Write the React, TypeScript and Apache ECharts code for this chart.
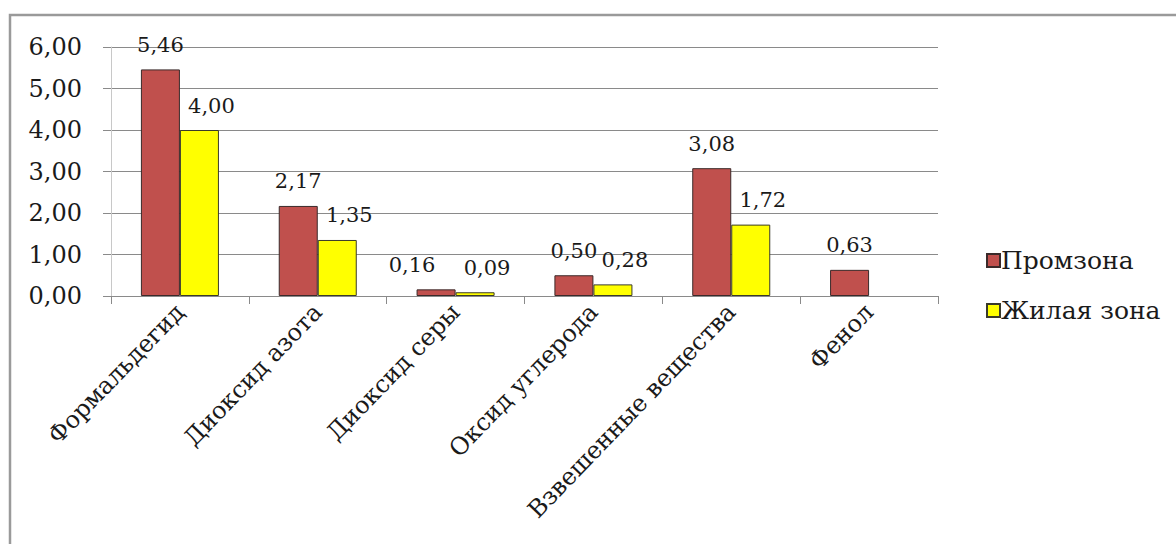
import React, { useEffect, useRef } from "react";
import * as echarts from "echarts";

const categories = [
  "Формальдегид",
  "Диоксид азота",
  "Диоксид серы",
  "Оксид углерода",
  "Взвешенные вещества",
  "Фенол",
];
const seriesNames = ["Промзона", "Жилая зона"];
const promzona = [5.46, 2.17, 0.16, 0.5, 3.08, 0.63];
const zhilaya: (number | null)[] = [4.0, 1.35, 0.09, 0.28, 1.72, null];
const yTicks = { min: 0, max: 6, interval: 1 };

const fmt = (v: number) => v.toFixed(2).replace(".", ",");
const FONT = "DejaVu Serif";

export default function App() {
  const ref = useRef<HTMLDivElement>(null);
  useEffect(() => {
    if (!ref.current) return;
    const chart = echarts.init(ref.current, undefined, { renderer: "svg" });
    chart.setOption({
      animation: false,
      backgroundColor: "#ffffff",
      textStyle: { fontFamily: FONT },
      graphic: [
        {
          type: "rect",
          shape: { x: 10, y: 15, width: 1200, height: 600 },
          style: { fill: "none", stroke: "#9a9a9a", lineWidth: 2.5 },
          silent: true,
        },
      ],
      grid: { left: 111, right: 238, top: 47, bottom: 248, containLabel: false },
      legend: {
        orient: "vertical",
        left: 981,
        top: 243,
        itemWidth: 13,
        itemHeight: 13,
        itemGap: 25,
        icon: "rect",
        textStyle: { fontFamily: FONT, fontSize: 25, color: "#1a1a1a", padding: [0, 0, 0, -4] },
        data: seriesNames,
      },
      xAxis: {
        type: "category",
        data: categories,
        axisLine: { show: true, lineStyle: { color: "#8a8a8a", width: 1 } },
        axisTick: { show: true, length: 8, lineStyle: { color: "#8a8a8a" } },
        axisLabel: {
          rotate: 46,
          interval: 0,
          margin: 12,
          fontFamily: FONT,
          fontSize: 24,
          color: "#1a1a1a",
        },
      },
      yAxis: {
        type: "value",
        min: yTicks.min,
        max: yTicks.max,
        interval: yTicks.interval,
        axisLine: { show: true, lineStyle: { color: "#c8c8c8", width: 1 } },
        axisTick: { show: true, inside: false, length: 8, lineStyle: { color: "#8a8a8a" } },
        splitLine: { show: true, lineStyle: { color: "#8a8a8a", width: 1 } },
        axisLabel: {
          margin: 29,
          fontFamily: FONT,
          fontSize: 24,
          color: "#1a1a1a",
          formatter: (v: number) => fmt(v),
        },
      },
      series: [
        {
          name: seriesNames[0],
          type: "bar",
          data: promzona.map((v, i) =>
            i === 2 ? { value: v, label: { offset: [-24, 0] } } : v
          ),
          barWidth: "28.3%",
          barGap: "0%",
          itemStyle: { color: "#C0504D", borderColor: "#3a2a2a", borderWidth: 1 },
          label: {
            show: true,
            position: "top",
            distance: 14,
            fontFamily: FONT,
            fontSize: 21,
            color: "#1a1a1a",
            formatter: (p: any) => fmt(p.value),
          },
        },
        {
          name: seriesNames[1],
          type: "bar",
          data: zhilaya,
          barWidth: "28.3%",
          barGap: "0%",
          itemStyle: { color: "#FFFF00", borderColor: "#3a3a2a", borderWidth: 1 },
          label: {
            show: true,
            position: "top",
            distance: 14,
            offset: [12, 0],
            fontFamily: FONT,
            fontSize: 21,
            color: "#1a1a1a",
            formatter: (p: any) => (p.value == null ? "" : fmt(p.value)),
          },
        },
      ],
    });
    return () => chart.dispose();
  }, []);
  return (
    <div
      ref={ref}
      style={{ position: "fixed", left: 0, top: 0, width: 1176, height: 544 }}
    />
  );
}
